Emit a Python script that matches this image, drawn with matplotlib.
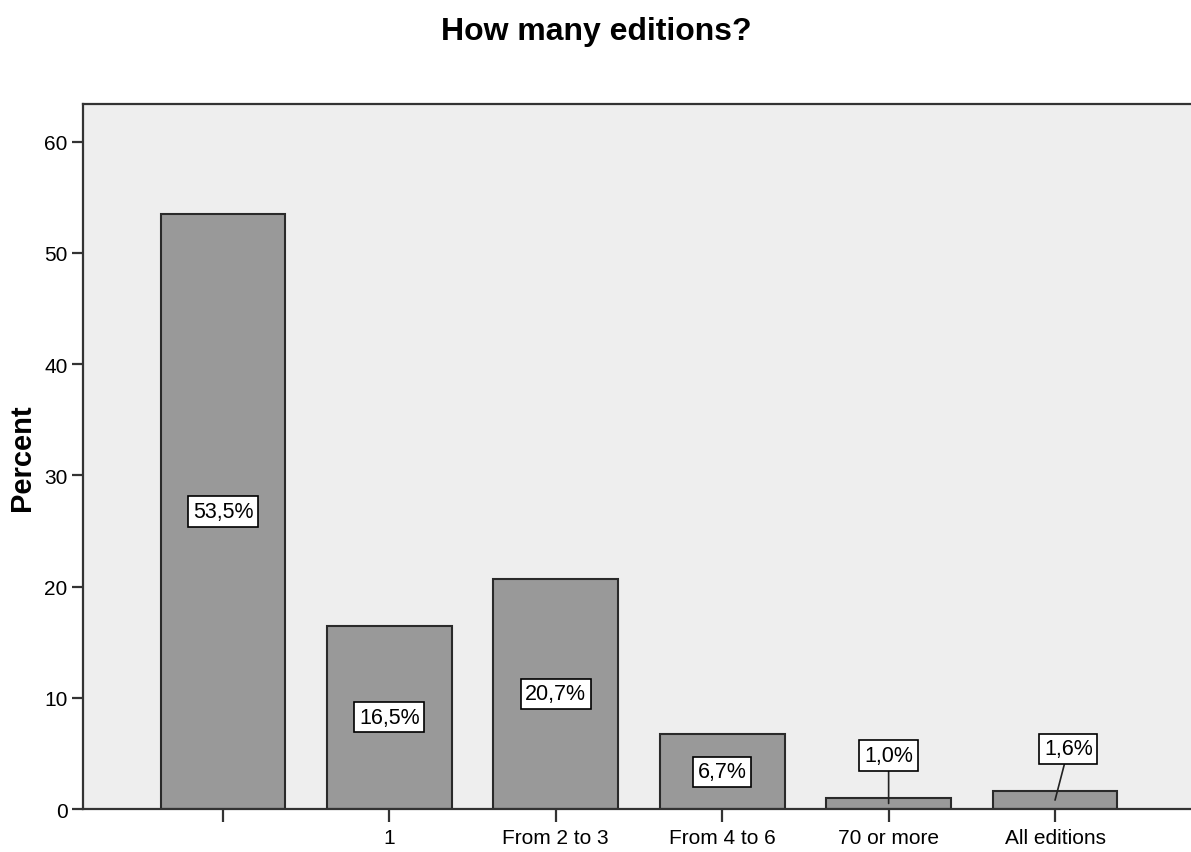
import matplotlib.pyplot as plt

plt.rcParams['font.family'] = ['Liberation Sans', 'DejaVu Sans']

categories = ['', '1', 'From 2 to 3', 'From 4 to 6', '70 or more', 'All editions']
percent = [53.5, 16.5, 20.7, 6.7, 1.0, 1.6]
labels = ['53,5%', '16,5%', '20,7%', '6,7%', '1,0%', '1,6%']

fig = plt.figure(figsize=(11.91, 8.53), dpi=100)
ax = fig.add_axes([0.0697, 0.0504, 0.9303, 0.8266])
ax.set_facecolor('#eeeeee')

x = list(range(len(categories)))
ax.bar(x, percent, width=0.75, color='#999999', edgecolor='#2a2a2a', linewidth=1.5, zorder=2)

box = dict(boxstyle='square,pad=0.22', facecolor='white', edgecolor='black', linewidth=1.2)
for i, (v, lab) in enumerate(zip(percent, labels)):
    if v > 3:
        ax.text(i, v / 2, lab, ha='center', va='center', fontsize=15.5, bbox=box, zorder=4)
    else:
        dx = 0.08 if v > 1.2 else 0.0
        ax.annotate(lab, xy=(i, v / 2), xytext=(i + dx, v + 3.8), ha='center', va='center',
                    fontsize=15.5, bbox=box, zorder=4,
                    arrowprops=dict(arrowstyle='-', color='#222222', lw=1.2, shrinkA=0, shrinkB=0))

ax.set_xlim(-0.841, 5.817)
ax.set_ylim(0, 63.4)
ax.set_yticks([0, 10, 20, 30, 40, 50, 60])
ax.set_xticks(x)
ax.set_xticklabels(categories)
ax.tick_params(axis='y', direction='out', length=8, width=1.6, color='#333333', labelsize=15, pad=3)
ax.tick_params(axis='x', direction='out', length=9, width=1.6, color='#333333', labelsize=15, pad=5)

for s in ['left', 'top', 'bottom']:
    ax.spines[s].set_color('#333333')
    ax.spines[s].set_linewidth(1.6)
ax.spines['right'].set_visible(False)

ax.set_ylabel('Percent', fontsize=21, fontweight='bold', labelpad=6)
fig.text(0.501, 0.9625, 'How many editions?', ha='center', va='center', fontsize=23, fontweight='bold')

fig.savefig('out.png', dpi=100)
